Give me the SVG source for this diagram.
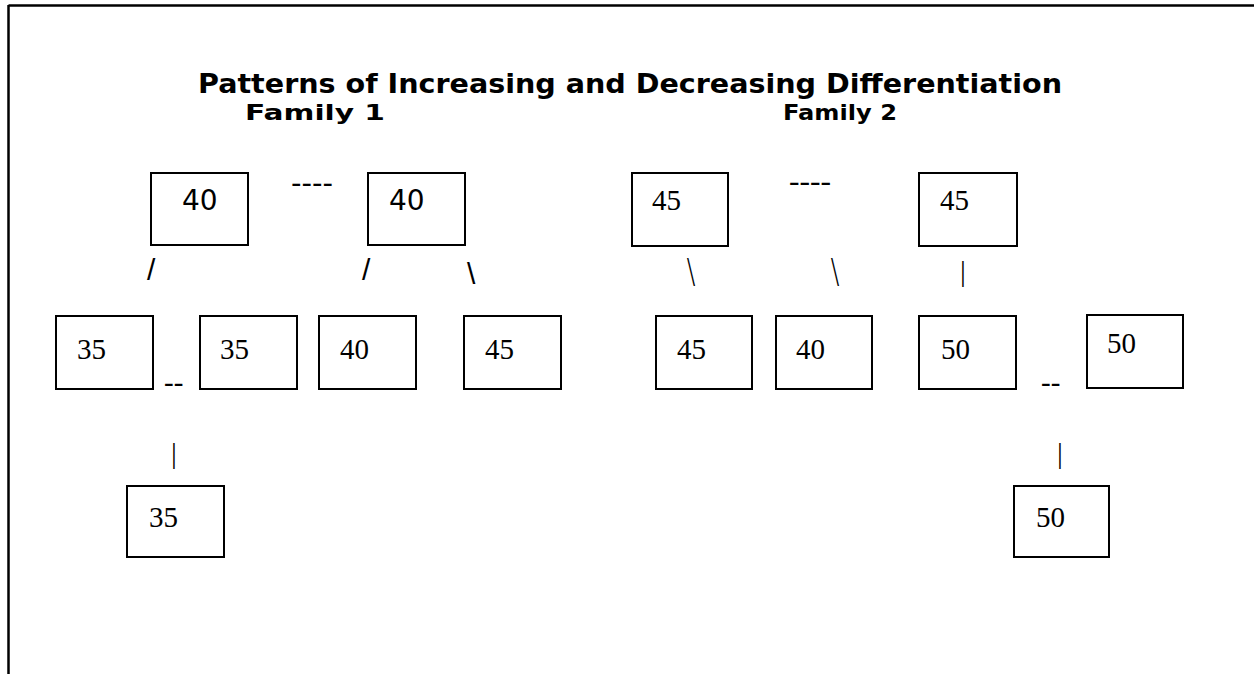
<svg xmlns="http://www.w3.org/2000/svg" width="1254" height="674" viewBox="0 0 1254 674">
<style>
.box{fill:#fff;stroke:#000;stroke-width:2}
.sans{font-family:"DejaVu Sans",Verdana,sans-serif;font-size:28px;fill:#000}
.serif{font-family:"Liberation Serif","Times New Roman",serif;font-size:29px;fill:#000}
.lsans{font-family:"Liberation Sans",Arial,sans-serif;font-size:30px;fill:#000}
.title{font-family:"DejaVu Sans",Verdana,sans-serif;font-weight:bold;fill:#000}
</style>
<rect width="1254" height="674" fill="#fff"/>
<g id="frame" stroke="#000" stroke-width="2.5" fill="none">
<line x1="8.5" y1="5.5" x2="1254" y2="5.5"/>
<line x1="8.5" y1="5" x2="8.5" y2="674"/>
</g>
<g id="titles">
<text class="title" x="198" y="93" font-size="27" textLength="864" lengthAdjust="spacingAndGlyphs">Patterns of Increasing and Decreasing Differentiation</text>
<text class="title" x="245" y="120" font-size="21" textLength="140" lengthAdjust="spacingAndGlyphs">Family 1</text>
<text class="title" x="783" y="120" font-size="21" textLength="114" lengthAdjust="spacingAndGlyphs">Family 2</text>
</g>
<g id="connectors">
<text class="sans" x="291" y="193" textLength="42" lengthAdjust="spacingAndGlyphs">----</text>
<text class="lsans" x="147" y="280">/</text>
<text class="lsans" x="362" y="280">/</text>
<text class="lsans" x="467" y="284">\</text>
<text class="serif" x="789" y="191" textLength="42" lengthAdjust="spacingAndGlyphs">----</text>
<text class="serif" transform="translate(687,286) scale(1,1.45)">\</text>
<text class="serif" transform="translate(831,286) scale(1,1.45)">\</text>
<text class="serif" x="960" y="281" font-size="20">|</text>
<text class="serif" x="164" y="392">--</text>
<text class="serif" x="1041" y="392">--</text>
<text class="serif" x="171" y="463">|</text>
<text class="serif" x="1057" y="463">|</text>
</g>
<g id="n1"><rect class="box" x="151" y="173" width="97" height="72"/><text class="sans" x="182" y="210">40</text></g>
<g id="n2"><rect class="box" x="368" y="173" width="97" height="72"/><text class="sans" x="389" y="210">40</text></g>
<g id="n3"><rect class="box" x="632" y="173" width="96" height="73"/><text class="serif" x="652" y="210">45</text></g>
<g id="n4"><rect class="box" x="919" y="173" width="98" height="73"/><text class="serif" x="940" y="210">45</text></g>
<g id="n5"><rect class="box" x="56" y="316" width="97" height="73"/><text class="serif" x="77" y="359">35</text></g>
<g id="n6"><rect class="box" x="200" y="316" width="97" height="73"/><text class="serif" x="220" y="359">35</text></g>
<g id="n7"><rect class="box" x="319" y="316" width="97" height="73"/><text class="serif" x="340" y="359">40</text></g>
<g id="n8"><rect class="box" x="464" y="316" width="97" height="73"/><text class="serif" x="485" y="359">45</text></g>
<g id="n9"><rect class="box" x="656" y="316" width="96" height="73"/><text class="serif" x="677" y="359">45</text></g>
<g id="n10"><rect class="box" x="776" y="316" width="96" height="73"/><text class="serif" x="796" y="359">40</text></g>
<g id="n11"><rect class="box" x="919" y="316" width="97" height="73"/><text class="serif" x="941" y="359">50</text></g>
<g id="n12"><rect class="box" x="1087" y="315" width="96" height="73"/><text class="serif" x="1107" y="353">50</text></g>
<g id="n13"><rect class="box" x="127" y="486" width="97" height="71"/><text class="serif" x="149" y="527">35</text></g>
<g id="n14"><rect class="box" x="1014" y="486" width="95" height="71"/><text class="serif" x="1036" y="527">50</text></g>
</svg>
